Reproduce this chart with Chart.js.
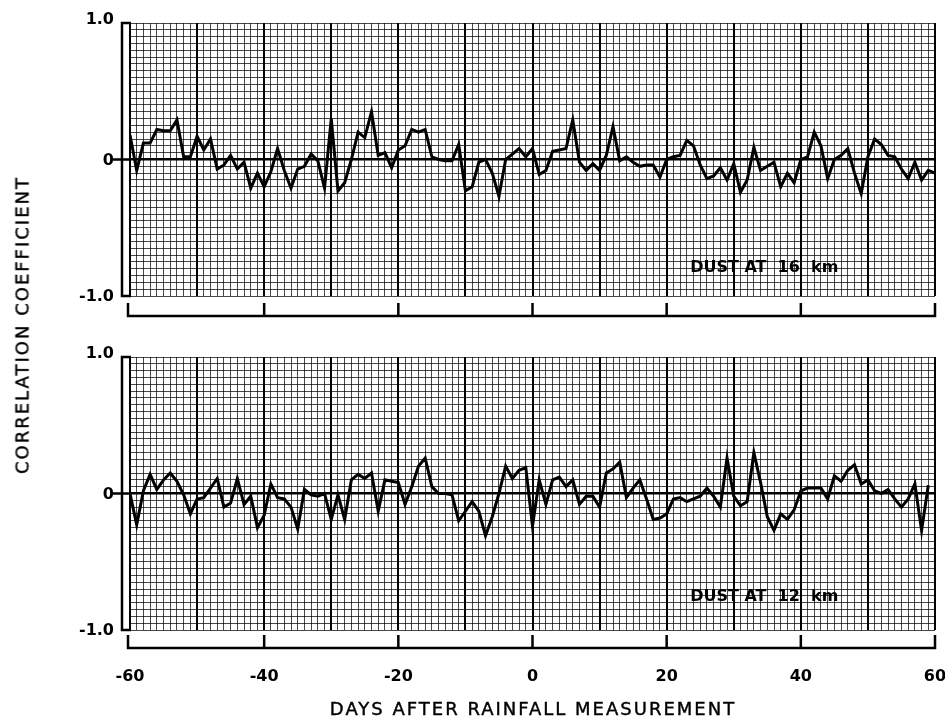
<!DOCTYPE html>
<html>
<head>
<meta charset="utf-8">
<script src="https://cdn.jsdelivr.net/npm/chart.js@4.4.0/dist/chart.umd.min.js"></script>
<style>
  body { margin: 0; background: #fff; }
  #wrap { position: relative; width: 945px; height: 721px; overflow: hidden; background: #fff; }
  canvas { position: absolute; left: 0; }
  #topChart { top: 0; }
  #bottomChart { top: 340px; }
  .title { position: absolute; font-family: "DejaVu Sans", sans-serif; font-size: 18px; letter-spacing: 2px; color: #000; white-space: nowrap; -webkit-text-stroke: 0.4px #000; }
  #ytitle { left: 22px; top: 325px; transform: translate(-50%, -50%) rotate(-90deg); }
  #xtitle { left: 533px; top: 708px; transform: translate(-50%, -50%); }
</style>
</head>
<body>
<div id="wrap">
  <canvas id="topChart" width="945" height="340"></canvas>
  <canvas id="bottomChart" width="945" height="381"></canvas>
  <div class="title" id="ytitle">CORRELATION COEFFICIENT</div>
  <div class="title" id="xtitle">DAYS AFTER RAINFALL MEASUREMENT</div>
</div>
<script>
// days after rainfall measurement, -60 .. 60
const days = Array.from({ length: 121 }, (_, i) => i - 60);

// correlation coefficient, dust at 16 km
const dust16 = [
  0.18, -0.08, 0.12, 0.12, 0.22, 0.21, 0.21, 0.29, 0.02, 0.02,
  0.17, 0.07, 0.15, -0.07, -0.04, 0.03, -0.07, -0.02, -0.21, -0.1,
  -0.2, -0.09, 0.08, -0.08, -0.21, -0.07, -0.05, 0.04, -0.01, -0.21,
  0.3, -0.23, -0.17, 0.0, 0.2, 0.16, 0.35, 0.03, 0.05, -0.06,
  0.07, 0.1, 0.22, 0.2, 0.22, 0.02, 0.0, -0.01, -0.01, 0.11,
  -0.23, -0.2, -0.02, 0.0, -0.1, -0.27, 0.0, 0.04, 0.08, 0.02,
  0.08, -0.11, -0.08, 0.06, 0.07, 0.08, 0.29, -0.02, -0.08, -0.03,
  -0.08, 0.03, 0.24, -0.01, 0.02, -0.02, -0.05, -0.04, -0.04, -0.13,
  0.0, 0.02, 0.03, 0.14, 0.1, -0.04, -0.14, -0.12, -0.06, -0.15,
  -0.03, -0.24, -0.15, 0.09, -0.08, -0.05, -0.02, -0.2, -0.1, -0.17,
  0.0, 0.02, 0.2, 0.1, -0.14, 0.0, 0.03, 0.08, -0.1, -0.25,
  0.02, 0.15, 0.11, 0.03, 0.02, -0.07, -0.14, -0.02, -0.15, -0.08,
  -0.1
];

// correlation coefficient, dust at 12 km
const dust12 = [
  0.0, -0.23, 0.02, 0.14, 0.03, 0.1, 0.15, 0.09, -0.01, -0.15,
  -0.04, -0.03, 0.04, 0.11, -0.1, -0.07, 0.11, -0.08, -0.02, -0.25,
  -0.16, 0.07, -0.03, -0.04, -0.1, -0.26, 0.03, -0.01, -0.02, 0.0,
  -0.19, -0.01, -0.19, 0.1, 0.14, 0.11, 0.15, -0.13, 0.1, 0.09,
  0.08, -0.08, 0.05, 0.2, 0.26, 0.05, 0.0, 0.0, -0.01, -0.2,
  -0.13, -0.06, -0.13, -0.31, -0.17, 0.0, 0.2, 0.11, 0.17, 0.19,
  -0.24, 0.1, -0.08, 0.1, 0.12, 0.05, 0.1, -0.08, -0.02, -0.02,
  -0.1, 0.15, 0.18, 0.23, -0.03, 0.04, 0.1, -0.04, -0.19, -0.18,
  -0.15, -0.04, -0.03, -0.06, -0.04, -0.02, 0.04, -0.02, -0.1, 0.26,
  -0.02, -0.09, -0.06, 0.3, 0.08, -0.17, -0.27, -0.15, -0.19, -0.12,
  0.02, 0.04, 0.04, 0.04, -0.04, 0.13, 0.09, 0.17, 0.21, 0.07,
  0.1, 0.02, 0.0, 0.03, -0.04, -0.1, -0.04, 0.07, -0.27, 0.06,
  null
];

const xTicks = [-60, -40, -20, 0, 20, 40, 60];
const xTickLabels = ['-60', '-40', '-20', '0', '20', '40', '60'];
const yTicks = [1, 0, -1];
const yTickLabels = ['1.0', '0', '-1.0'];

const decor = {
  id: 'decor',
  afterDatasetsDraw(chart, args, o) {
    const { ctx, scales: { x, y } } = chart;
    ctx.save();
    ctx.strokeStyle = '#000';
    ctx.fillStyle = '#000';
    ctx.lineWidth = 2.5;

    // bracket on the left
    const bx = x.left - 8;
    const yTop = y.getPixelForValue(1);
    const yBot = y.getPixelForValue(-1);
    const y0 = y.getPixelForValue(0);
    ctx.beginPath();
    ctx.moveTo(bx + 9, yTop);
    ctx.lineTo(bx, yTop);
    ctx.lineTo(bx, yBot);
    ctx.lineTo(bx + 9, yBot);
    ctx.moveTo(bx - 9, y0);
    ctx.lineTo(bx + 8, y0);
    ctx.stroke();

    ctx.font = 'bold 16px "DejaVu Sans"';
    ctx.textAlign = 'right';
    ctx.textBaseline = 'middle';
    yTicks.forEach((v, i) => {
      ctx.fillText(yTickLabels[i], bx - 8, y.getPixelForValue(v) + (i === 0 ? -3 : 1));
    });

    // bracket below
    const by = y.bottom + o.gap;
    const xl = x.getPixelForValue(xTicks[0]) - 2;
    const xr = x.getPixelForValue(xTicks[xTicks.length - 1]);
    ctx.beginPath();
    ctx.moveTo(xl, by - 13);
    ctx.lineTo(xl, by);
    ctx.lineTo(xr, by);
    ctx.lineTo(xr, by - 13);
    xTicks.slice(1, -1).forEach(v => {
      const px = x.getPixelForValue(v);
      ctx.moveTo(px, by);
      ctx.lineTo(px, by - 13);
    });
    ctx.stroke();

    if (o.showLabels) {
      ctx.textAlign = 'center';
      xTicks.forEach((v, i) => {
        ctx.fillText(xTickLabels[i], x.getPixelForValue(v), by + 29);
      });
    }

    // panel name
    ctx.font = 'bold 16px "DejaVu Sans"';
    ctx.textAlign = 'left';
    ctx.fillText(o.label, x.getPixelForValue(23.5), y.getPixelForValue(o.labelY));
    ctx.restore();
  }
};

function xGrid(c) {
  if (!c.tick) return 1;
  return Math.round(c.tick.value) % 10 === 0 ? 2 : 1;
}
function xGridColor(c) {
  if (!c.tick) return '#333';
  return Math.round(c.tick.value) % 10 === 0 ? '#000' : 'rgba(0,0,0,0.72)';
}
function yGrid(c) {
  if (!c.tick) return 1;
  return Math.abs(c.tick.value) < 1e-6 ? 2.5 : 1;
}
function yGridColor(c) {
  if (!c.tick) return '#333';
  return Math.abs(c.tick.value) < 1e-6 ? '#000' : 'rgba(0,0,0,0.72)';
}

function makePanel(id, values, padding, label, labelY, gap, showLabels) {
  return new Chart(document.getElementById(id), {
    type: 'line',
    data: {
      datasets: [{
        data: days.map((d, i) => ({ x: d, y: values[i] })),
        borderColor: '#000',
        borderWidth: 3,
        pointRadius: 0,
        tension: 0,
        spanGaps: false
      }]
    },
    options: {
      responsive: false,
      animation: false,
      layout: { padding: padding },
      plugins: {
        legend: { display: false },
        tooltip: { enabled: false },
        decor: { label: label, labelY: labelY, gap: gap, showLabels: showLabels }
      },
      scales: {
        x: {
          type: 'linear', min: -60, max: 60,
          ticks: { display: false, stepSize: 1 },
          grid: { drawTicks: false, lineWidth: xGrid, color: xGridColor },
          border: { display: false }
        },
        y: {
          min: -1, max: 1,
          ticks: { display: false, stepSize: 0.05 },
          grid: { drawTicks: false, lineWidth: yGrid, color: yGridColor },
          border: { display: false }
        }
      }
    },
    plugins: [decor]
  });
}

makePanel('topChart', dust16, { left: 130, right: 10, top: 23, bottom: 44 }, 'DUST AT  16  km', -0.795, 20, false);
makePanel('bottomChart', dust12, { left: 130, right: 10, top: 17, bottom: 91 }, 'DUST AT  12  km', -0.76, 18, true);
</script>
</body>
</html>
